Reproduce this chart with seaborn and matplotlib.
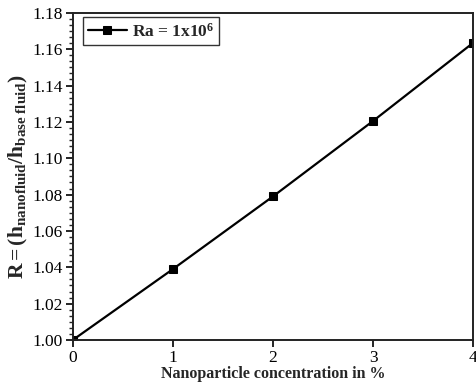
import matplotlib
matplotlib.use("Agg")
import matplotlib.pyplot as plt
import pandas as pd
import seaborn as sns
from matplotlib.ticker import AutoMinorLocator, MultipleLocator

# data
concentration = [0, 1, 2, 3, 4]
ratio = [1.000, 1.039, 1.079, 1.1205, 1.1635]
series_label = r"Ra = 1x10$^{\mathbf{6}}$"

df = pd.DataFrame({"conc": concentration, "R": ratio})

sns.set_style("ticks")
plt.rcParams["font.family"] = ["Liberation Serif", "DejaVu Serif"]
plt.rcParams["mathtext.fontset"] = "custom"
plt.rcParams["mathtext.rm"] = "Liberation Serif"
plt.rcParams["mathtext.it"] = "Liberation Serif:italic"
plt.rcParams["mathtext.bf"] = "Liberation Serif:bold"

fig = plt.figure(figsize=(4.76, 3.89), dpi=100)
ax = fig.add_axes([0.153, 0.126, 0.841, 0.841])

sns.lineplot(data=df, x="conc", y="R", color="black", lw=1.6,
             marker="s", markersize=6, markeredgecolor="black",
             label=series_label, ax=ax)

ax.set_xlim(0, 4)
ax.set_ylim(1.00, 1.18)
ax.xaxis.set_major_locator(MultipleLocator(1))
ax.yaxis.set_major_locator(MultipleLocator(0.02))
ax.yaxis.set_minor_locator(AutoMinorLocator(6))
ax.yaxis.set_major_formatter(plt.FuncFormatter(lambda v, _: f"{v:.2f}"))

ax.tick_params(axis="both", which="major", direction="out", length=5,
               width=1.2, labelsize=12.5, colors="black", pad=2)
ax.tick_params(axis="y", which="minor", direction="out", length=3, width=1)
for s in ax.spines.values():
    s.set_linewidth(1.4)
    s.set_color("#222222")
    s.set_visible(True)

ax.set_xlabel("Nanoparticle concentration in %", fontsize=11.5,
              fontweight="bold", labelpad=0)
ax.set_ylabel(r"$\mathbf{R = (h_{nanofluid}/h_{base\ fluid})}$",
              fontsize=15.5, labelpad=2)

leg = ax.legend(loc="upper left", frameon=True, fancybox=False,
                prop={"weight": "bold", "size": 12.5},
                edgecolor="black", handlelength=2.2, handletextpad=0.3,
                borderpad=0.3, borderaxespad=0.25,
                bbox_to_anchor=(0.015, 1.0))
leg.get_frame().set_linewidth(1.0)

fig.savefig("out.png", dpi=100, facecolor="white")
